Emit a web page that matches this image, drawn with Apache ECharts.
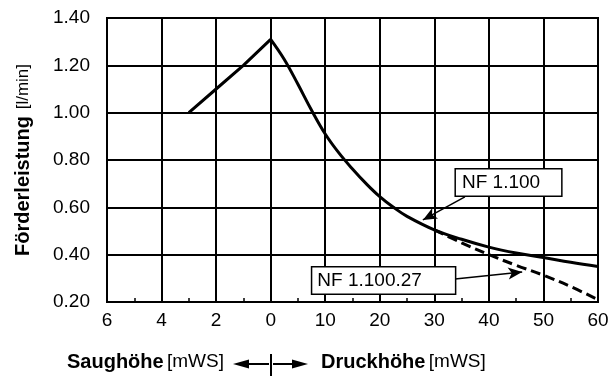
<!DOCTYPE html>
<html>
<head>
<meta charset="utf-8">
<script src="https://cdn.jsdelivr.net/npm/echarts@6/dist/echarts.min.js"></script>
<style>
  html, body { margin: 0; padding: 0; background: #fff; }
  #chart { width: 613px; height: 381px; }
</style>
</head>
<body>
<div id="chart"></div>
<script>
// Saughöhe (suction head, mWS) -> Förderleistung (l/min)
const suctionHead = [3, 2, 1, 0]
const suctionFlow = [1.00, 1.10, 1.20, 1.31]

// Druckhöhe (pressure head, mWS), NF 1.100
const pressureHead = [0, 2.5, 5, 7.5, 10, 12.5, 15, 17.5, 20, 22.5, 25, 30, 35, 40, 45, 50, 55, 60]
const flowNF1100 = [1.31, 1.225, 1.12, 1.01, 0.91, 0.83, 0.762, 0.70, 0.645, 0.60, 0.562, 0.505, 0.465, 0.432, 0.407, 0.388, 0.368, 0.35]

// NF 1.100.27 departs from the main curve at ~30 mWS
const pressureHead27 = [30, 35, 40, 45, 50, 55, 60]
const flowNF110027 = [0.505, 0.45, 0.40, 0.355, 0.313, 0.265, 0.21]

const xTickLabels = ['6', '4', '2', '0', '10', '20', '30', '40', '50', '60']

const FONT = '"Liberation Sans", Arial, sans-serif'

// suction side: 2 mWS per grid step, pressure side: 10 mWS per grid step
function suctionX(h) { return -h / 2 }
function pressureX(h) { return h / 10 }

function pairs(xs, ys, fx) {
  return xs.map((x, i) => [fx(x), ys[i]])
}

const chart = echarts.init(document.getElementById('chart'))

const black = '#000'
const arrowLine = {
  silent: true,
  symbol: ['none', 'arrow'],
  symbolSize: [9, 14],
  label: { show: false },
  lineStyle: { color: black, width: 1.5, type: 'solid' },
  emphasis: { disabled: true }
}
const boxLabel = {
  show: true,
  position: 'inside',
  color: black,
  fontSize: 19,
  fontFamily: FONT,
  backgroundColor: '#fff',
  borderColor: black,
  borderWidth: 1.5
}

chart.setOption({
  animation: false,
  grid: {
    left: 107,
    right: 15,
    top: 18,
    bottom: 79,
    show: true,
    borderColor: black,
    borderWidth: 2
  },
  xAxis: {
    type: 'value',
    min: -3,
    max: 6,
    interval: 1,
    axisLine: { lineStyle: { color: black, width: 2 } },
    axisTick: { show: false, inside: true },
    minorTick: { show: true, splitNumber: 2, length: 4, lineStyle: { color: black, width: 1.5 } },
    splitLine: { show: true, lineStyle: { color: black, width: 2 } },
    axisLabel: {
      color: black,
      fontSize: 19,
      fontFamily: FONT,
      margin: 9,
      formatter: v => xTickLabels[v + 3]
    }
  },
  yAxis: {
    type: 'value',
    min: 0.2,
    max: 1.4,
    interval: 0.2,
    name: '{b|Förderleistung}  {n|[l/min]}',
    nameLocation: 'middle',
    nameRotate: 90,
    nameGap: 74,
    nameTextStyle: {
      rich: {
        b: { fontSize: 20, fontWeight: 'bold', fontFamily: FONT, color: black },
        n: { fontSize: 17, fontFamily: FONT, color: black }
      }
    },
    axisLine: { show: true, lineStyle: { color: black, width: 2 } },
    axisTick: { show: false },
    splitLine: { show: true, lineStyle: { color: black, width: 2 } },
    axisLabel: {
      color: black,
      fontSize: 19,
      fontFamily: FONT,
      margin: 17,
      formatter: v => v.toFixed(2)
    }
  },
  series: [
    {
      name: 'Saughöhe',
      type: 'line',
      data: pairs(suctionHead, suctionFlow, suctionX),
      showSymbol: false,
      lineStyle: { color: black, width: 3 }
    },
    {
      name: 'NF 1.100.27',
      type: 'line',
      data: pairs(pressureHead27, flowNF110027, pressureX),
      showSymbol: false,
      smooth: 0.4,
      lineStyle: { color: black, width: 3, type: [10, 5] },
      markLine: Object.assign({}, arrowLine, {
        data: [[{ coord: [3.38, 0.297] }, { coord: [4.61, 0.327] }]]
      }),
      markPoint: {
        silent: true,
        symbolSize: 0,
        data: [{ coord: [2.07, 0.291] }],
        label: Object.assign({}, boxLabel, {
          formatter: 'NF 1.100.27',
          padding: [4, 33, 3, 5]
        })
      }
    },
    {
      name: 'NF 1.100',
      type: 'line',
      data: pairs(pressureHead, flowNF1100, pressureX),
      showSymbol: false,
      smooth: 0.4,
      lineStyle: { color: black, width: 3 },
      markLine: Object.assign({}, arrowLine, {
        data: [[{ coord: [3.56, 0.644] }, { coord: [2.79, 0.547] }]]
      }),
      markPoint: {
        silent: true,
        symbolSize: 0,
        data: [{ coord: [4.36, 0.705] }],
        label: Object.assign({}, boxLabel, {
          formatter: 'NF 1.100',
          padding: [4, 21, 3, 6]
        })
      }
    }
  ],
  graphic: [
    {
      type: 'text',
      left: 67,
      top: 352,
      style: {
        text: '{b|Saughöhe} {n|[mWS]}',
        rich: {
          b: { fontSize: 20, fontWeight: 'bold', fontFamily: FONT, fill: black },
          n: { fontSize: 19, fontFamily: FONT, fill: black }
        }
      }
    },
    {
      type: 'text',
      left: 321,
      top: 352,
      style: {
        text: '{b|Druckhöhe} {n|[mWS]}',
        rich: {
          b: { fontSize: 20, fontWeight: 'bold', fontFamily: FONT, fill: black },
          n: { fontSize: 19, fontFamily: FONT, fill: black }
        }
      }
    },
    { type: 'line', shape: { x1: 271, y1: 354, x2: 271, y2: 376 }, style: { stroke: black, lineWidth: 2 } },
    { type: 'line', shape: { x1: 245, y1: 364, x2: 269, y2: 364 }, style: { stroke: black, lineWidth: 2 } },
    { type: 'polygon', shape: { points: [[233, 364], [249, 359.5], [249, 368.5]] }, style: { fill: black } },
    { type: 'line', shape: { x1: 273, y1: 364, x2: 296, y2: 364 }, style: { stroke: black, lineWidth: 2 } },
    { type: 'polygon', shape: { points: [[308, 364], [292, 359.5], [292, 368.5]] }, style: { fill: black } }
  ]
})
</script>
</body>
</html>
